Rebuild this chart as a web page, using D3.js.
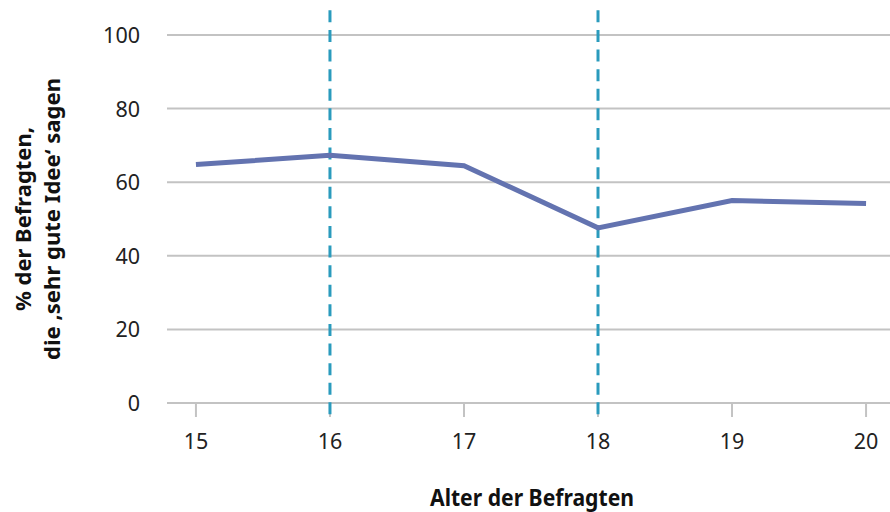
<!DOCTYPE html>
<html>
<head>
<meta charset="utf-8">
<script src="https://cdn.jsdelivr.net/npm/d3@7"></script>
<style>
  html, body { margin: 0; padding: 0; background: #fff; }
  svg { display: block; font-family: "Noto Sans", sans-serif; }
  .tick-label { fill: #222; font-size: 21.5px; }
  .axis-title { fill: #111; font-weight: bold; }
</style>
</head>
<body>
<svg width="890" height="512"></svg>
<script>
const ages = [15, 16, 17, 18, 19, 20];
const shares = [64.8, 67.3, 64.5, 47.6, 55.0, 54.2];
const yTicks = [0, 20, 40, 60, 80, 100];
const markedAges = [16, 18];

const svg = d3.select("svg");

const x = d3.scaleLinear()
  .domain([14.784, 20.216])
  .range([167, 895]);

const y = d3.scaleLinear()
  .domain([0, 100])
  .range([403, 35]);

// gridlines
svg.append("g")
  .selectAll("line")
  .data(yTicks)
  .join("line")
  .attr("x1", 167)
  .attr("x2", 895)
  .attr("y1", d => y(d))
  .attr("y2", d => y(d))
  .attr("stroke", "#c3c3c3")
  .attr("stroke-width", 2);

// y tick labels
svg.append("g")
  .selectAll("text")
  .data(yTicks)
  .join("text")
  .attr("class", "tick-label")
  .attr("x", 140)
  .attr("y", d => y(d) + 8)
  .attr("text-anchor", "end")
  .text(d => d);

// x ticks
svg.append("g")
  .selectAll("line")
  .data(ages)
  .join("line")
  .attr("x1", d => x(d))
  .attr("x2", d => x(d))
  .attr("y1", y(0))
  .attr("y2", y(0) + 14)
  .attr("stroke", "#c3c3c3")
  .attr("stroke-width", 2);

svg.append("g")
  .selectAll("text")
  .data(ages)
  .join("text")
  .attr("class", "tick-label")
  .attr("x", d => x(d))
  .attr("y", 449)
  .attr("text-anchor", "middle")
  .text(d => d);

// dashed markers at 16 and 18
svg.append("g")
  .selectAll("line")
  .data(markedAges)
  .join("line")
  .attr("x1", d => x(d))
  .attr("x2", d => x(d))
  .attr("y1", y(106.7))
  .attr("y2", y(-3.9))
  .attr("stroke", "#2a9bbd")
  .attr("stroke-width", 3)
  .attr("stroke-dasharray", "12 7.6");

// the line
const line = d3.line()
  .x((d, i) => x(ages[i]))
  .y(d => y(d));

svg.append("path")
  .datum(shares)
  .attr("d", line)
  .attr("fill", "none")
  .attr("stroke", "#6373b0")
  .attr("stroke-width", 5);

// axis titles
svg.append("text")
  .attr("class", "axis-title")
  .attr("x", 532)
  .attr("y", 506)
  .attr("text-anchor", "middle")
  .style("font-size", "24px")
  .attr("textLength", 204)
  .attr("lengthAdjust", "spacingAndGlyphs")
  .text("Alter der Befragten");

const yTitle = svg.append("text")
  .attr("class", "axis-title")
  .attr("transform", "translate(0,219) rotate(-90)")
  .attr("text-anchor", "middle")
  .style("font-size", "21.5px");
yTitle.append("tspan").attr("x", 0).attr("y", 31)
  .attr("textLength", 184).attr("lengthAdjust", "spacingAndGlyphs")
  .text("% der Befragten,");
yTitle.append("tspan").attr("x", 0).attr("y", 60)
  .attr("textLength", 282).attr("lengthAdjust", "spacingAndGlyphs")
  .text("die \u201Asehr gute Idee\u2018 sagen");
</script>
</body>
</html>
